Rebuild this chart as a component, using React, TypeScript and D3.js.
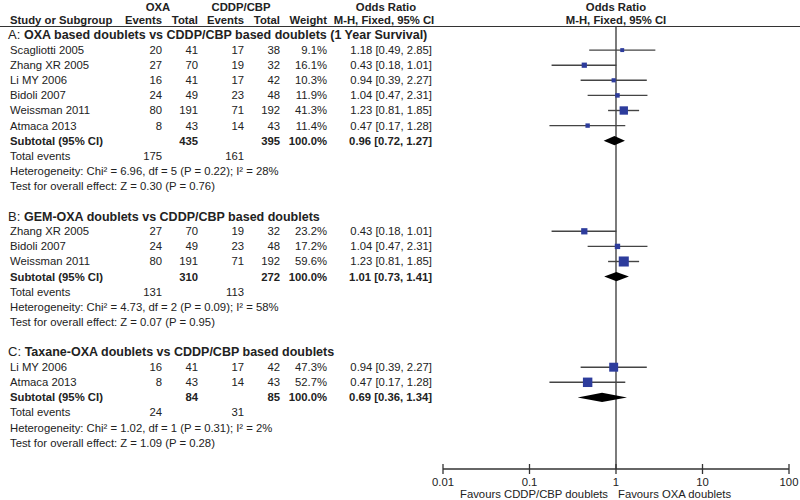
import React from "react";
import * as d3 from "d3";

// ---- Data ----
const sectionLabels = ["A:", "B:", "C:"];
const sectionTitles = [
  "OXA based doublets vs CDDP/CBP based doublets (1 Year Survival)",
  "GEM-OXA doublets vs CDDP/CBP based doublets",
  "Taxane-OXA doublets vs CDDP/CBP based doublets",
];

// studies per section
const studyNames = [
  ["Scagliotti 2005", "Zhang XR 2005", "Li MY 2006", "Bidoli 2007", "Weissman 2011", "Atmaca 2013"],
  ["Zhang XR 2005", "Bidoli 2007", "Weissman 2011"],
  ["Li MY 2006", "Atmaca 2013"],
];
const oxaEvents = [[20, 27, 16, 24, 80, 8], [27, 24, 80], [16, 8]];
const oxaTotals = [[41, 70, 41, 49, 191, 43], [70, 49, 191], [41, 43]];
const cddpEvents = [[17, 19, 17, 23, 71, 14], [19, 23, 71], [17, 14]];
const cddpTotals = [[38, 32, 42, 48, 192, 43], [32, 48, 192], [42, 43]];
const weights = [[9.1, 16.1, 10.3, 11.9, 41.3, 11.4], [23.2, 17.2, 59.6], [47.3, 52.7]];
const oddsRatios = [[1.18, 0.43, 0.94, 1.04, 1.23, 0.47], [0.43, 1.04, 1.23], [0.94, 0.47]];
const ciLow = [[0.49, 0.18, 0.39, 0.47, 0.81, 0.17], [0.18, 0.47, 0.81], [0.39, 0.17]];
const ciHigh = [[2.85, 1.01, 2.27, 2.31, 1.85, 1.28], [1.01, 2.31, 1.85], [2.27, 1.28]];

const subOxaTotal = [435, 310, 84];
const subCddpTotal = [395, 272, 85];
const subOR = [0.96, 1.01, 0.69];
const subLow = [0.72, 0.73, 0.36];
const subHigh = [1.27, 1.41, 1.34];
const totalOxaEvents = [175, 131, 24];
const totalCddpEvents = [161, 113, 31];
const heterogeneity = [
  "Heterogeneity: Chi² = 6.96, df = 5 (P = 0.22); I² = 28%",
  "Heterogeneity: Chi² = 4.73, df = 2 (P = 0.09); I² = 58%",
  "Heterogeneity: Chi² = 1.02, df = 1 (P = 0.31); I² = 2%",
];
const overallEffect = [
  "Test for overall effect: Z = 0.30 (P = 0.76)",
  "Test for overall effect: Z = 0.07 (P = 0.95)",
  "Test for overall effect: Z = 1.09 (P = 0.28)",
];
const axisTicks = [0.01, 0.1, 1, 10, 100];
const axisTickLabels = ["0.01", "0.1", "1", "10", "100"];

// ---- Layout ----
const W = 800;
const H = 500;
const FONT = "'Liberation Sans', Arial, sans-serif";
const TEXT = "#222";
const BLUE = "#2d3c9c";
const LINE = "#444";
const rowY0 = 35;
const rowStep = 15.1;
const axisY = 469;

const col = {
  study: 10,
  oxaEv: 162,
  oxaTot: 198,
  cdEv: 244,
  cdTot: 280,
  weight: 327,
  or: 432,
};

const fmt2 = d3.format(".2f");
const fmtW = (w: number) => d3.format(".1f")(w) + "%";

export default function App() {
  const x = d3.scaleLog().domain([0.01, 100]).range([443, 789]);
  const yRow = (i: number) => rowY0 + i * rowStep;

  type Row = { kind: string; s: number; k?: number; row: number };
  const rows: Row[] = [];
  let r = 0;
  sectionTitles.forEach((_, s) => {
    rows.push({ kind: "header", s, row: r++ });
    studyNames[s].forEach((__, k) => rows.push({ kind: "study", s, k, row: r++ }));
    rows.push({ kind: "subtotal", s, row: r++ });
    rows.push({ kind: "events", s, row: r++ });
    rows.push({ kind: "het", s, row: r++ });
    rows.push({ kind: "test", s, row: r++ });
    r++;
  });

  const t = (
    xx: number,
    yy: number,
    str: string | number,
    anchor: "start" | "middle" | "end" = "end",
    bold = false,
    key?: string
  ) => (
    <text
      key={key}
      x={xx}
      y={yy}
      dy="0.35em"
      textAnchor={anchor}
      fontWeight={bold ? "bold" : "normal"}
    >
      {str}
    </text>
  );

  const els: React.ReactNode[] = [];
  rows.forEach((rw, i) => {
    const y = yRow(rw.row);
    const s = rw.s;
    if (rw.kind === "header") {
      els.push(
        <text key={"h" + i} x={8} y={y} dy="0.35em" fontSize={12.5}>
          <tspan fontSize={13}>{sectionLabels[s]} </tspan>
          <tspan fontWeight="bold">{sectionTitles[s]}</tspan>
        </text>
      );
    } else if (rw.kind === "study") {
      const k = rw.k as number;
      els.push(t(col.study, y, studyNames[s][k], "start", false, "n" + i));
      els.push(t(col.oxaEv, y, oxaEvents[s][k], "end", false, "a" + i));
      els.push(t(col.oxaTot, y, oxaTotals[s][k], "end", false, "b" + i));
      els.push(t(col.cdEv, y, cddpEvents[s][k], "end", false, "c" + i));
      els.push(t(col.cdTot, y, cddpTotals[s][k], "end", false, "d" + i));
      els.push(t(col.weight, y, fmtW(weights[s][k]), "end", false, "e" + i));
      els.push(
        t(
          col.or,
          y,
          `${fmt2(oddsRatios[s][k])} [${fmt2(ciLow[s][k])}, ${fmt2(ciHigh[s][k])}]`,
          "end",
          false,
          "f" + i
        )
      );
      const side = 1.3 * Math.sqrt(weights[s][k]);
      els.push(
        <line
          key={"ci" + i}
          x1={x(ciLow[s][k])}
          x2={x(ciHigh[s][k])}
          y1={y}
          y2={y}
          stroke={LINE}
          strokeWidth={1.4}
        />
      );
      els.push(
        <rect
          key={"bx" + i}
          x={x(oddsRatios[s][k]) - side / 2}
          y={y - side / 2}
          width={side}
          height={side}
          fill={BLUE}
        />
      );
    } else if (rw.kind === "subtotal") {
      els.push(t(col.study, y, "Subtotal (95% CI)", "start", true, "n" + i));
      els.push(t(col.oxaTot, y, subOxaTotal[s], "end", true, "b" + i));
      els.push(t(col.cdTot, y, subCddpTotal[s], "end", true, "d" + i));
      els.push(t(col.weight, y, "100.0%", "end", true, "e" + i));
      els.push(
        t(
          col.or,
          y,
          `${fmt2(subOR[s])} [${fmt2(subLow[s])}, ${fmt2(subHigh[s])}]`,
          "end",
          true,
          "f" + i
        )
      );
      const hh = 4.6;
      const pts = [
        [x(subLow[s]), y],
        [x(subOR[s]), y - hh],
        [x(subHigh[s]), y],
        [x(subOR[s]), y + hh],
      ];
      els.push(
        <polygon key={"dm" + i} points={pts.map((p) => p.join(",")).join(" ")} fill="#000" />
      );
    } else if (rw.kind === "events") {
      els.push(t(col.study, y, "Total events", "start", false, "n" + i));
      els.push(t(col.oxaEv, y, totalOxaEvents[s], "end", false, "a" + i));
      els.push(t(col.cdEv, y, totalCddpEvents[s], "end", false, "c" + i));
    } else if (rw.kind === "het") {
      els.push(t(col.study, y, heterogeneity[s], "start", false, "n" + i));
    } else if (rw.kind === "test") {
      els.push(t(col.study, y, overallEffect[s], "start", false, "n" + i));
    }
  });

  const h1 = 7;
  const h2 = 20;

  return (
    <svg
      width={W}
      height={H}
      style={{ position: "absolute", left: 0, top: 0, background: "#fff" }}
      fontFamily={FONT}
      fontSize={11.3}
      fill={TEXT}
    >
      <rect x={0} y={0} width={W} height={H} fill="#fff" />
      {/* headers */}
      {t(158, h1, "OXA", "middle", true)}
      {t(241, h1, "CDDP/CBP", "middle", true)}
      {t(386, h1, "Odds Ratio", "middle", true)}
      {t(x(1), h1, "Odds Ratio", "middle", true)}
      {t(col.study, h2, "Study or Subgroup", "start", true)}
      {t(col.oxaEv, h2, "Events", "end", true)}
      {t(col.oxaTot, h2, "Total", "end", true)}
      {t(col.cdEv, h2, "Events", "end", true)}
      {t(col.cdTot, h2, "Total", "end", true)}
      {t(col.weight, h2, "Weight", "end", true)}
      {t(384, h2, "M-H, Fixed, 95% CI", "middle", true)}
      {t(x(1), h2, "M-H, Fixed, 95% CI", "middle", true)}
      <line x1={0} x2={W} y1={26.5} y2={26.5} stroke="#333" strokeWidth={1.2} />

      {/* null line */}
      <line x1={x(1)} x2={x(1)} y1={27} y2={axisY} stroke={LINE} strokeWidth={1.4} />

      {els}

      {/* axis */}
      <line x1={x(0.01)} x2={x(100)} y1={axisY} y2={axisY} stroke="#333" strokeWidth={1.3} />
      {axisTicks.map((v, i) => (
        <g key={"tk" + i}>
          <line x1={x(v)} x2={x(v)} y1={axisY - 5} y2={axisY + 5} stroke="#333" strokeWidth={1.3} />
          {t(x(v), 482, axisTickLabels[i], "middle", false)}
        </g>
      ))}
      {t(x(1) - 8, 494, "Favours CDDP/CBP doublets", "end", false)}
      {t(x(1) + 2, 494, "Favours OXA doublets", "start", false)}
    </svg>
  );
}
